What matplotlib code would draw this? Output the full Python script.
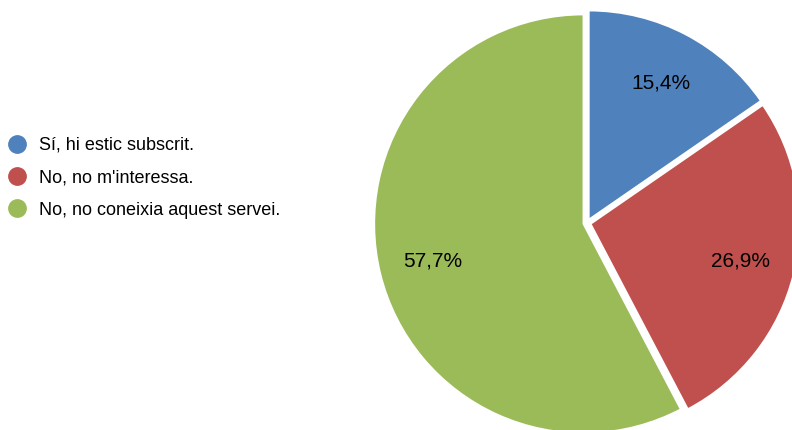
import matplotlib
matplotlib.use('Agg')
import matplotlib.pyplot as plt
from matplotlib.lines import Line2D

plt.rcParams['font.family'] = ['Liberation Sans', 'DejaVu Sans']

labels = ['Sí, hi estic subscrit.', "No, no m'interessa.", 'No, no coneixia aquest servei.']
counts = [4, 7, 15]
colors = ['#4F81BD', '#C0504D', '#9BBB59']

fig = plt.figure(figsize=(7.92, 4.30), dpi=100)
ax = fig.add_axes([0, 0, 1, 1])

# explode is in data units here (pixels)
ax.pie(counts, colors=colors, startangle=90, counterclock=False,
       center=(587, 207), radius=209.5, explode=[3.5] * 3,
       autopct=lambda p: f'{p:.1f}%'.replace('.', ','), pctdistance=0.74,
       wedgeprops=dict(edgecolor='white', linewidth=1.5),
       textprops=dict(fontsize=15, color='black'))

ax.set_xlim(0, 792)
ax.set_ylim(0, 430)
ax.set_aspect('equal')
ax.axis('off')

handles = [Line2D([], [], marker='o', linestyle='', markersize=12.5,
                  markerfacecolor=c, markeredgecolor=c) for c in colors]
ax.legend(handles, labels, loc='upper left', bbox_to_anchor=(8 / 792, 1 - 137 / 430),
          frameon=False, fontsize=13, handlelength=1.0, handletextpad=0.7,
          labelspacing=0.85, borderpad=0, borderaxespad=0)

fig.savefig('out.png', dpi=100)
